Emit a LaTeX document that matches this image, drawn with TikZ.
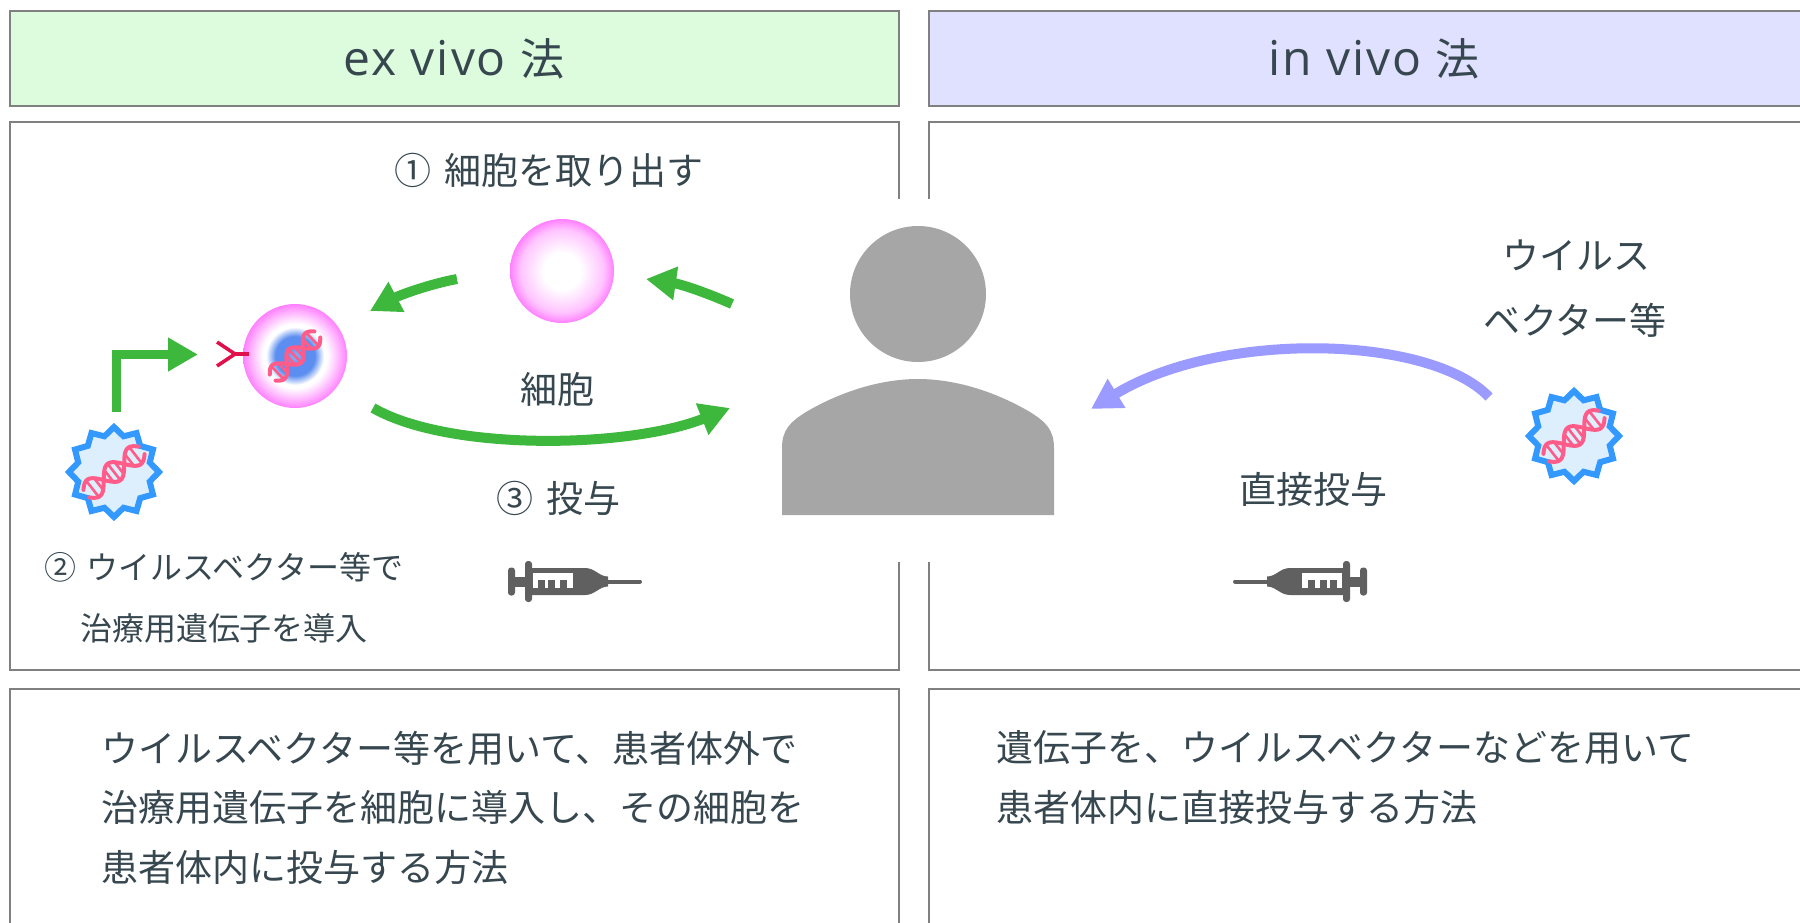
\documentclass[tikz,border=0pt]{standalone}
\usepackage{fontspec}
\setmainfont{Noto Sans CJK JP}
\newfontfamily\latinhead[LetterSpace=4]{Open Sans}
\usetikzlibrary{arrows.meta,calc}

\definecolor{ink}{HTML}{37474F}
\definecolor{framegray}{HTML}{808080}
\definecolor{exfill}{HTML}{DDFCDD}
\definecolor{infill}{HTML}{E0E0FF}
\definecolor{arrowgreen}{HTML}{3DB83D}
\definecolor{arrowviolet}{HTML}{9A9AFF}
\definecolor{persongray}{HTML}{A6A6A6}
\definecolor{syringegray}{HTML}{606060}
\definecolor{dnapink}{HTML}{FF5C8A}
\definecolor{virusblue}{HTML}{3399FF}
\definecolor{virusfill}{HTML}{DDEEFC}
\definecolor{cellpink}{HTML}{FF80FF}
\definecolor{cellpinklight}{HTML}{FFC4FF}
\definecolor{nucleusblue}{HTML}{5B8EF0}
\definecolor{nucleuslight}{HTML}{8FB2F5}
\definecolor{receptorred}{HTML}{E0104D}

% radial fills for the cells (the circle rim sits at 25bp)
\pgfdeclareradialshading{emptycell}{\pgfpoint{0bp}{0bp}}{color(0bp)=(white); color(9bp)=(white); color(20bp)=(cellpinklight); color(25bp)=(cellpink); color(50bp)=(cellpink)}
\pgfdeclareradialshading{dnacell}{\pgfpoint{0bp}{0bp}}{color(0bp)=(white); color(15.5bp)=(white); color(20bp)=(cellpinklight); color(25bp)=(cellpink); color(50bp)=(cellpink)}
\pgfdeclareradialshading{nucleus}{\pgfpoint{0bp}{0bp}}{color(0bp)=(nucleuslight); color(9bp)=(nucleusblue); color(17bp)=(nucleusblue); color(25bp)=(white); color(50bp)=(white)}

% double helix drawn along the local x axis
\newcommand{\dnahelix}{%
  \foreach \t in {-21,-15,-5,0,5,15,21}{
    \draw[dnapink, line width=2.6pt] (\t,{-8*cos(9*\t)}) -- (\t,{8*cos(9*\t)});
  }
  \draw[dnapink, line width=4pt, line cap=round] plot[domain=-27:27, samples=40, smooth] (\x,{8*cos(9*\x)});
  \draw[dnapink, line width=4pt, line cap=round] plot[domain=-27:27, samples=40, smooth] (\x,{-8*cos(9*\x)});
}

% virus particle: jagged outline with a helix inside
\newcommand{\virusbadge}{%
  \draw[virusblue, fill=virusfill, line width=6pt, line join=miter]
    (90:45) \foreach \i in {1,...,23} { -- ({90+15*\i}:{ifthenelse(mod(\i,2)==0,45,37)}) } -- cycle;
  \begin{scope}[rotate=38, scale=1.3]
    \dnahelix
  \end{scope}
}

% syringe pointing to the right, centred on the origin
\newcommand{\syringeshape}{%
  \fill[syringegray, rounded corners=3pt] (-67,-14) rectangle (-60,14);
  \fill[syringegray] (-61,-5) rectangle (-49,5);
  \fill[syringegray, rounded corners=3pt] (-50,-20.5) rectangle (-43,20.5);
  \fill[syringegray] (-44,-13.5) -- (10,-13.5) .. controls (20,-13.5) and (24,-5) .. (33,-5)
    -- (33,5) .. controls (24,5) and (20,13.5) .. (10,13.5) -- (-44,13.5) -- cycle;
  \draw[syringegray, line width=4pt, line cap=round] (32,0) -- (65,0);
  \fill[white] (-42,-8.5) rectangle (-2,-1.5);
  \foreach \a/\b in {-42/-37,-30/-27,-20/-15,-8/-2}{
    \fill[white] (\a,-8.5) rectangle (\b,6.5);
  }
}

\begin{document}
\begin{tikzpicture}[x=1pt,y=-1pt,
  boxline/.style={draw=framegray, line width=2pt},
  headtxt/.style={text=ink, inner sep=0pt, font=\fontsize{44}{50}\selectfont},
  txt/.style={text=ink, inner sep=0pt, font=\fontsize{37}{44}\selectfont},
  smalltxt/.style={text=ink, inner sep=0pt, font=\fontsize{32}{38}\selectfont},
  bodytxt/.style={text=ink, inner sep=0pt, anchor=west, font=\fontsize{37}{44}\selectfont},
  flowgreen/.style={draw=arrowgreen, line width=10pt, -{Triangle[length=30pt,width=32pt]}},
  flowviolet/.style={draw=arrowviolet, line width=10pt, -{Triangle[length=30pt,width=32pt]}},
]
\useasboundingbox (0,0) rectangle (1800,922);
\clip (0,0) rectangle (1800,922);

% headers
\draw[boxline, fill=exfill] (10,11) rectangle (899,106);
\draw[boxline, fill=infill] (929,11) rectangle (1830,106);
\node[headtxt] (exhead) at (454,59) {{\latinhead\fontsize{48}{50}\selectfont ex vivo }法};
\node[headtxt] (inhead) at (1374,59) {{\latinhead\fontsize{48}{50}\selectfont in vivo }法};

% middle panels, open where the person figure sits
\draw[boxline] (899,199) -- (899,122) -- (10,122) -- (10,670) -- (899,670) -- (899,562);
\draw[boxline] (929,199) -- (929,122) -- (1830,122);
\draw[boxline] (1830,670) -- (929,670) -- (929,562);

% lower panels
\draw[boxline] (10,940) -- (10,689) -- (899,689) -- (899,940);
\draw[boxline] (1830,689) -- (929,689) -- (929,940);

% patient
\fill[persongray] (918,294) circle[radius=68pt];
\fill[persongray] (782,515) -- (782,448) .. controls (782,430) and (790,422) .. (806,412)
  .. controls (840,392) and (880,379) .. (918,379) .. controls (956,379) and (996,392) .. (1030,412)
  .. controls (1046,422) and (1054,430) .. (1054,448) -- (1054,515) -- cycle;
\coordinate (person) at (918,400);

% harvested cell
\shade[shading=emptycell] (562,271) circle[radius=52pt];
\coordinate (cellout) at (562,271);

% modified cell
\shade[shading=dnacell] (295,356) circle[radius=52pt];
\shade[shading=nucleus] (295,356) circle[radius=29pt];
\begin{scope}[shift={(295,356)}, rotate=44, scale=1.15]
  \dnahelix
\end{scope}
\coordinate (cellmod) at (295,356);

% receptor on the modified cell
\coordinate (rcA) at (217,342);
\coordinate (rcB) at (217,366);
\coordinate (rcJ) at (235,354);
\coordinate (rcS) at (249,354);
\draw[receptorred, line width=3.5pt] (rcA) -- (rcJ) -- (rcB);
\draw[receptorred, line width=3.5pt] (rcJ) -- (rcS);

% viral vectors
\begin{scope}[shift={(114,472)}]
  \virusbadge
\end{scope}
\begin{scope}[shift={(1574,436)}]
  \virusbadge
\end{scope}

% syringes
\begin{scope}[shift={(575,581.5)}]
  \syringeshape
\end{scope}
\begin{scope}[shift={(1300,581.5)}, xscale=-1]
  \syringeshape
\end{scope}

% flow arrows
\coordinate (a1s) at (732,304);
\coordinate (a1e) at (646,279);
\draw[flowgreen] (a1s) .. controls (705,292) and (680,284) .. (a1e);
\coordinate (a2s) at (457,279);
\coordinate (a2e) at (370,311);
\draw[flowgreen] (a2s) .. controls (430,284) and (400,295) .. (a2e);
\coordinate (a3s) at (373,408);
\coordinate (a3e) at (730,408);
\draw[flowgreen] (a3s) .. controls (450,452) and (630,448) .. (a3e);
\coordinate (a4s) at (116.5,412);
\coordinate (a4e) at (198,354.5);
\draw[flowgreen, line width=9.5pt] (a4s) |- (a4e);
\coordinate (a5s) at (1489,397);
\coordinate (a5e) at (1091,409);
\draw[flowviolet] (a5s) .. controls (1430,335) and (1220,330) .. (a5e);

% labels in the middle panels
\node[txt, anchor=west] (step1) at (394,170) {①\hspace{0.35em}細胞を取り出す};
\node[txt] (cellword) at (557,389) {細胞};
\node[txt, anchor=west] (step3) at (496,498) {③\hspace{0.35em}投与};
\node[smalltxt] (step2a) at (224,567) {②\hspace{0.3em}ウイルスベクター等で};
\node[smalltxt] (step2b) at (224,628) {治療用遺伝子を導入};
\node[txt] (vir1) at (1576,255) {ウイルス};
\node[txt] (vir2) at (1575,320) {ベクター等};
\node[txt] (direct) at (1313,489) {直接投与};

% descriptions
\node[bodytxt] (exd1) at (101,748) {ウイルスベクター等を用いて、患者体外で};
\node[bodytxt] (exd2) at (101,807) {治療用遺伝子を細胞に導入し、その細胞を};
\node[bodytxt] (exd3) at (101,867) {患者体内に投与する方法};
\node[bodytxt] (ind1) at (996,748) {遺伝子を、ウイルスベクターなどを用いて};
\node[bodytxt] (ind2) at (996,807) {患者体内に直接投与する方法};
\end{tikzpicture}
\end{document}
